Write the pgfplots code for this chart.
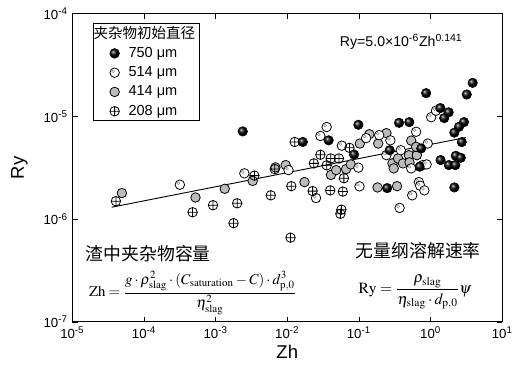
\documentclass[border=0pt]{standalone}
\usepackage{amsmath}
\usepackage{mathptmx}
\usepackage[no-math]{fontspec}
\setmainfont{Liberation Sans}
\newfontfamily\cjk{Noto Sans CJK SC}
\usepackage{pgfplots}
\pgfplotsset{compat=1.18}
\definecolor{midgray}{RGB}{188,188,188}
\pgfplotsset{mylegimg/.style={legend image code/.code={\path[draw=none,fill=none] (0pt,-4pt) rectangle (20pt,4pt); \draw[##1] plot coordinates {(14pt,0pt)};}}}

\pgfdeclareplotmark{ringdot}{%
  \pgfpathcircle{\pgfpointorigin}{\pgfplotmarksize}%
  \pgfusepathqfillstroke
  \pgfscope
  \pgfsetstrokecolor{black!45}%
  \pgfsetlinewidth{0.4pt}%
  \pgfpathcircle{\pgfpoint{-0.32\pgfplotmarksize}{0.32\pgfplotmarksize}}{0.3\pgfplotmarksize}%
  \pgfusepathqstroke
  \endpgfscope
}

\pgfplotstableread{
x y
2.39e-3 7.17e-6
1.65e-2 5.66e-6
3.78e-2 5.87e-6
9.84e-2 8.32e-6
8.55e-2 4.27e-6
0.363 8.69e-6
0.505 8.83e-6
0.269 4.70e-6
0.248 2.01e-6
0.739 4.89e-6
0.705 3.25e-6
0.867 1.69e-5
1.37 1.21e-5
1.79 1.10e-5
1.55 9.66e-6
3.87 2.13e-5
3.20 1.64e-5
2.93 8.83e-6
2.50 7.96e-6
2.15 6.97e-6
2.73 5.64e-6
1.38 3.77e-6
1.80 3.37e-6
2.22 3.37e-6
2.25 4.15e-6
2.64 3.97e-6
2.15 2.04e-6
}\dataA

\pgfplotstableread{
x y
3.17e-4 2.17e-6
2.52e-3 2.80e-6
1.04e-2 3.01e-6
2.52e-2 1.61e-6
2.90e-2 6.47e-6
3.55e-2 7.91e-6
5.78e-2 5.21e-6
9.84e-2 3.18e-6
0.126 6.17e-6
0.192 6.59e-6
0.275 5.87e-6
0.242 4.21e-6
0.384 4.70e-6
0.102 2.09e-6
0.370 1.29e-6
0.629 7.11e-6
0.914 5.46e-6
0.537 3.13e-6
0.780 3.37e-6
0.881 3.42e-6
0.687 2.30e-6
0.716 2.12e-6
0.820 1.91e-6
0.555 1.71e-6
1.02 9.86e-6
1.19 1.14e-5
}\dataB

\pgfplotstableread{
x y
4.92e-5 1.80e-6
5.24e-4 1.63e-6
1.34e-3 1.98e-6
3.29e-3 2.36e-6
6.84e-3 3.20e-6
9.51e-3 3.37e-6
1.74e-2 2.30e-6
4.07e-2 2.70e-6
4.82e-2 3.01e-6
6.63e-2 3.08e-6
7.71e-2 3.42e-6
0.103 5.46e-6
0.140 6.73e-6
0.186 5.46e-6
0.242 6.89e-6
0.182 2.04e-6
0.341 2.10e-6
0.294 3.50e-6
0.306 3.13e-6
0.352 3.91e-6
0.412 3.50e-6
0.499 4.21e-6
0.644 4.21e-6
0.509 3.58e-6
0.537 5.83e-6
0.629 5.07e-6
}\dataC

\pgfplotstableread{
x y
4.06e-5 1.50e-6
4.77e-4 1.17e-6
9.20e-4 1.37e-6
2.00e-3 1.43e-6
1.78e-3 9.16e-7
3.48e-3 2.66e-6
5.89e-3 1.71e-6
6.70e-3 3.08e-6
1.14e-2 2.10e-6
1.11e-2 6.62e-7
1.27e-2 5.66e-6
2.26e-2 1.88e-6
2.35e-2 3.50e-6
2.90e-2 4.25e-6
3.55e-2 3.35e-6
4.04e-2 3.91e-6
5.26e-2 3.91e-6
3.98e-2 1.91e-6
5.97e-2 1.86e-6
6.17e-2 2.51e-6
5.69e-2 1.24e-6
5.51e-2 1.13e-6
7.39e-2 4.96e-6
}\dataD

\begin{document}
\begin{tikzpicture}
\begin{axis}[
  name=ax,
  scale only axis, width=325.5pt, height=233.25pt,
  xmode=log, ymode=log, log basis x=10, log basis y=10,
  xmin=1e-5, xmax=10, ymin=1e-7, ymax=1e-4,
  xtick={1e-5,1e-4,1e-3,1e-2,1e-1,1,10},
  xticklabels={10\textsuperscript{-5},10\textsuperscript{-4},10\textsuperscript{-3},10\textsuperscript{-2},10\textsuperscript{-1},10\textsuperscript{0},10\textsuperscript{1}},
  ytick={1e-7,1e-6,1e-5,1e-4},
  yticklabels={10\textsuperscript{-7},10\textsuperscript{-6},10\textsuperscript{-5},10\textsuperscript{-4}},
  tick align=inside,
  major tick length=4pt, minor tick length=2.2pt,
  every tick/.style={black, line width=0.6pt},
  axis line style={line width=0.75pt},
  tick label style={font=\fontsize{10}{12}\selectfont},
  xlabel={Zh}, ylabel={Ry},
  label style={font=\fontsize{14}{16}\selectfont},
  xlabel style={at={(axis description cs:0.5,-0.0965)}, anchor=center},
  ylabel style={at={(axis description cs:-0.123,0.5)}, anchor=center},
  legend style={at={(axis description cs:0.0484,0.971)}, anchor=north west,
    draw=black, line width=0.6pt, font=\fontsize{11}{13}\selectfont,
    inner xsep=2pt, inner ysep=1pt, nodes={inner sep=1pt},
    row sep=3.5pt, column sep=3.5pt},
  legend cell align=left,
  mark size=3.6pt,
]
\addlegendimage{empty legend}
\addlegendentry{\hspace*{-26.5pt}{\cjk 夹杂物初始直径}}
\addlegendimage{mark=ball, mark options={ball color=black}, mylegimg}
\addlegendentry{750 μm}
\addlegendimage{mark=ringdot, mark options={fill=white, draw=black, line width=0.6pt}, mylegimg}
\addlegendentry{514 μm}
\addlegendimage{mark=*, mark options={fill=midgray, draw=black, line width=0.6pt}, mylegimg}
\addlegendentry{414 μm}
\addlegendimage{mark=oplus, mark options={fill=white, draw=black, line width=0.6pt}, mylegimg}
\addlegendentry{208 μm}

\addplot[forget plot, only marks, mark=*, mark options={fill=midgray, draw=black, line width=0.6pt}] table {\dataC};
\addplot[forget plot, only marks, mark=ringdot, mark options={fill=white, draw=black, line width=0.6pt}] table {\dataB};
\addplot[forget plot, only marks, mark=oplus, mark options={fill=white, draw=black, line width=0.6pt}] table {\dataD};
\addplot[forget plot, only marks, mark=ball, mark options={ball color=black}] table {\dataA};
\addplot[forget plot, black, line width=0.7pt] coordinates {(3.54e-5,1.31e-6) (3.10,6.25e-6)};

\node[font=\fontsize{10.7}{12}\selectfont] at (axis description cs:0.765,0.91) {Ry=5.0×10\textsuperscript{-6}Zh\textsuperscript{0.141}};
\node[font=\cjk\fontsize{13.5}{15}\selectfont] at (axis description cs:0.177,0.222) {渣中夹杂物容量};
\node[anchor=west, font=\fontsize{11.2}{13}\selectfont] at (axis description cs:0.028,0.093) {$\mathrm{Zh}=\dfrac{g\cdot\rho_{\mathrm{slag}}^{2}\cdot\left(C_{\mathrm{saturation}}-C\right)\cdot d_{\mathrm{p,0}}^{3}}{\eta_{\mathrm{slag}}^{2}}$};
\node[font=\cjk\fontsize{13.5}{15}\selectfont] at (axis description cs:0.805,0.232) {无量纲溶解速率};
\node[font=\fontsize{11.8}{14}\selectfont] at (axis description cs:0.797,0.097) {$\mathrm{Ry}=\dfrac{\rho_{\mathrm{slag}}}{\eta_{\mathrm{slag}}\cdot d_{\mathrm{p,0}}}\psi$};
\end{axis}
\path (ax.south west) ++(-54.75pt,-40.5pt) rectangle ++(387.75pt,284.25pt);
\end{tikzpicture}
\end{document}
